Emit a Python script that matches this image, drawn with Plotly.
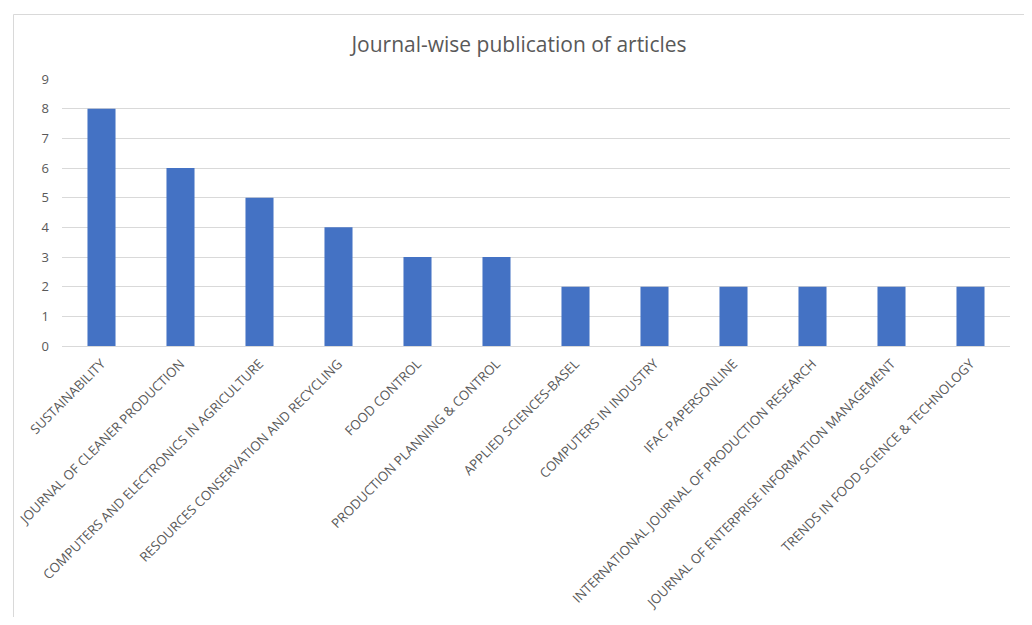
import plotly.graph_objects as go

journals = [
    "SUSTAINABILITY",
    "JOURNAL OF CLEANER PRODUCTION",
    "COMPUTERS AND ELECTRONICS IN AGRICULTURE",
    "RESOURCES CONSERVATION AND RECYCLING",
    "FOOD CONTROL",
    "PRODUCTION PLANNING & CONTROL",
    "APPLIED SCIENCES-BASEL",
    "COMPUTERS IN INDUSTRY",
    "IFAC PAPERSONLINE",
    "INTERNATIONAL JOURNAL OF PRODUCTION RESEARCH",
    "JOURNAL OF ENTERPRISE INFORMATION MANAGEMENT",
    "TRENDS IN FOOD SCIENCE & TECHNOLOGY",
]
articles = [8, 6, 5, 4, 3, 3, 2, 2, 2, 2, 2, 2]
y_ticks = list(range(0, 10))

OFF = 8  # page body margin
W, H = 1032 - 2 * OFF, 625 - 2 * OFF
# target pixel positions in the screenshot
L, R, T, B = 62, 1010, 79, 346

fig = go.Figure(
    go.Bar(x=journals, y=articles, marker=dict(color="#4472C4", line=dict(width=0)))
)

def px_to_paper_x(px):
    return (px - L) / (R - L)

def px_to_paper_y(py):
    return (B - py) / (B - T)

fig.update_layout(
    width=W,
    height=H,
    margin=dict(l=L - OFF, r=W - (R - OFF), t=T - OFF, b=H - (B - OFF), pad=0, autoexpand=False),
    paper_bgcolor="white",
    plot_bgcolor="white",
    bargap=0.645,
    font=dict(family="Open Sans", color="#595959", size=12),
    title=dict(
        text="Journal-wise publication of articles",
        x=px_to_paper_x(519),
        xref="paper",
        xanchor="center",
        y=1 - (45 - OFF) / H,
        yanchor="middle",
        font=dict(size=21, color="#595959"),
    ),
    xaxis=dict(
        automargin=False,
        tickangle=-45,
        showgrid=False,
        showline=False,
        ticks="outside",
        ticklen=4,
        tickcolor="rgba(0,0,0,0)",
        tickfont=dict(size=13.2, color="#595959"),
    ),
    yaxis=dict(
        automargin=False,
        range=[0, 9],
        tickvals=y_ticks,
        showgrid=True,
        gridcolor="#d9d9d9",
        gridwidth=1,
        zeroline=True,
        zerolinecolor="#d9d9d9",
        zerolinewidth=1,
        ticks="",
        ticklabelstandoff=12,
        tickfont=dict(size=13, color="#595959"),
    ),
    shapes=[
        dict(
            type="rect",
            xref="paper",
            yref="paper",
            x0=px_to_paper_x(13.5),
            x1=px_to_paper_x(1028.5),
            y0=px_to_paper_y(660),
            y1=px_to_paper_y(14.5),
            line=dict(color="#d9d9d9", width=1),
            fillcolor="rgba(0,0,0,0)",
            layer="below",
        )
    ],
    showlegend=False,
)

fig.write_html("out.html")
